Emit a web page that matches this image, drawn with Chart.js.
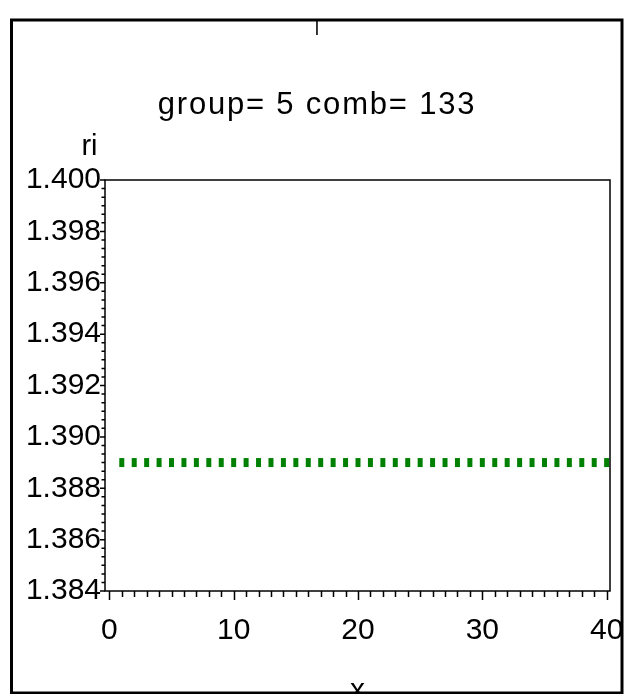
<!DOCTYPE html>
<html>
<head>
<meta charset="utf-8">
<script src="https://cdn.jsdelivr.net/npm/chart.js@4.4.1/dist/chart.umd.min.js"></script>
<style>
html, body { margin: 0; padding: 0; background: #fff; overflow: hidden; }
#wrap { position: relative; width: 624px; height: 694px; }
</style>
</head>
<body>
<div id="wrap"><canvas id="c" width="624" height="694"></canvas></div>
<script>
// ---- data ----
const TITLE_MARK = '|';
const TITLE = 'group= 5 comb= 133';
const Y_LABEL = 'ri';
const X_LABEL = 'x';
const xValues = [1, 2, 3, 4, 5, 6, 7, 8, 9, 10, 11, 12, 13, 14, 15, 16, 17, 18, 19, 20,
                 21, 22, 23, 24, 25, 26, 27, 28, 29, 30, 31, 32, 33, 34, 35, 36, 37, 38, 39, 40];
const riValues = [1.389, 1.389, 1.389, 1.389, 1.389, 1.389, 1.389, 1.389, 1.389, 1.389,
                  1.389, 1.389, 1.389, 1.389, 1.389, 1.389, 1.389, 1.389, 1.389, 1.389,
                  1.389, 1.389, 1.389, 1.389, 1.389, 1.389, 1.389, 1.389, 1.389, 1.389,
                  1.389, 1.389, 1.389, 1.389, 1.389, 1.389, 1.389, 1.389, 1.389, 1.389];
const yTicks = [1.384, 1.386, 1.388, 1.390, 1.392, 1.394, 1.396, 1.398, 1.400];
const xTicks = [0, 10, 20, 30, 40];

// ---- styling ----
const FONT = '"Liberation Sans", Arial, Helvetica, sans-serif';
const GREEN = 'rgb(0,128,0)';

const framePlugin = {
  id: 'sasFrame',
  beforeDraw(chart) {
    for (const b of chart.boxes) {
      if (b.options && b.options.text === TITLE && !b._spaced) {
        const orig = b.draw;
        b.draw = function (area) {
          const c = this.ctx;
          const prev = c.letterSpacing;
          c.letterSpacing = '1.8px';
          orig.call(this, area);
          c.letterSpacing = prev || '0px';
        };
        b._spaced = true;
      }
    }
  },
  afterDraw(chart) {
    const { ctx, chartArea: a, scales } = chart;
    const xs = scales.x, ys = scales.y;
    ctx.save();
    // plot frame
    ctx.strokeStyle = '#000';
    ctx.lineWidth = 1.5;
    ctx.strokeRect(a.left, a.top, a.right - a.left, a.bottom - a.top);
    // x ticks (every unit, longer on labelled ones)
    ctx.beginPath();
    const xmin = Math.ceil(xs.min), xmax = Math.floor(xs.max);
    for (let v = xmin; v <= xmax; v++) {
      const px = Math.round(xs.getPixelForValue(v)) + 0.5;
      const len = xTicks.includes(v) ? 9 : 6;
      ctx.moveTo(px, a.bottom);
      ctx.lineTo(px, a.bottom + len);
    }
    // y ticks (major + 5 minor between)
    for (let i = 0; i < yTicks.length; i++) {
      const py = ys.getPixelForValue(yTicks[i]);
      ctx.moveTo(a.left, py);
      ctx.lineTo(a.left - 5, py);
      if (i < yTicks.length - 1) {
        const step = (yTicks[i + 1] - yTicks[i]) / 6;
        for (let k = 1; k < 6; k++) {
          const pm = ys.getPixelForValue(yTicks[i] + k * step);
          ctx.moveTo(a.left, pm);
          ctx.lineTo(a.left - 3.5, pm);
        }
      }
    }
    ctx.stroke();
    // y axis label, horizontal above the axis
    ctx.font = '29px ' + FONT;
    ctx.fillStyle = '#000';
    ctx.textAlign = 'center';
    ctx.textBaseline = 'alphabetic';
    ctx.fillText(Y_LABEL, a.left - 15.5, a.top - 25);
    // outer frame
    ctx.lineWidth = 3;
    ctx.strokeRect(11.5, 20, 610.5, 673);
    ctx.restore();
  }
};

new Chart(document.getElementById('c'), {
  type: 'scatter',
  data: {
    datasets: [{
      label: 'ri',
      data: xValues.map((x, i) => ({ x: x, y: riValues[i] })),
      showLine: false,
      pointStyle: 'line',
      pointRotation: 90,
      pointRadius: 4.5,
      pointHoverRadius: 4.5,
      pointBorderWidth: 5,
      pointBorderColor: GREEN,
      pointBackgroundColor: GREEN
    }]
  },
  options: {
    responsive: false,
    animation: false,
    devicePixelRatio: 1,
    events: [],
    layout: { padding: { left: 10, right: 0, top: 0, bottom: 0 } },
    plugins: {
      legend: { display: false },
      tooltip: { enabled: false },
      title: {
        display: true, text: TITLE_MARK, color: '#222',
        font: { family: FONT, size: 14, weight: 'bold', lineHeight: 1 },
        padding: { top: 21.5, bottom: 0 }
      },
      subtitle: {
        display: true, text: TITLE, color: '#000',
        font: { family: FONT, size: 31, weight: 'normal', lineHeight: 1 },
        padding: { top: 54.7, bottom: 58.8 }
      }
    },
    scales: {
      x: {
        type: 'linear', position: 'bottom', min: -0.35, max: 40.27,
        afterBuildTicks: s => { s.ticks = xTicks.map(v => ({ value: v })); },
        afterFit: s => { s.height = 103; s.paddingLeft = 0; s.paddingRight = 0; },
        grid: { display: false, drawTicks: false },
        border: { display: false },
        ticks: { color: '#000', font: { family: FONT, size: 30, lineHeight: 1 }, padding: 25, maxRotation: 0, autoSkip: false },
        title: { display: true, text: X_LABEL, color: '#000', font: { family: FONT, size: 30, lineHeight: 1 }, padding: { top: 0, bottom: -12 } }
      },
      y: {
        type: 'linear', position: 'left', min: 1.384, max: 1.400,
        afterBuildTicks: s => { s.ticks = yTicks.map(v => ({ value: v })); },
        afterFit: s => { s.width = 95; s.paddingTop = 0; s.paddingBottom = 0; },
        grid: { display: false, drawTicks: false },
        border: { display: false },
        ticks: { color: '#000', font: { family: FONT, size: 30, lineHeight: 1 }, padding: 4, callback: v => Number(v).toFixed(3) }
      },
      y2: {
        type: 'linear', position: 'right', display: true,
        afterFit: s => { s.width = 14; s.paddingTop = 0; s.paddingBottom = 0; },
        grid: { display: false, drawTicks: false },
        border: { display: false },
        ticks: { display: false }
      }
    }
  },
  plugins: [framePlugin]
});
</script>
</body>
</html>
